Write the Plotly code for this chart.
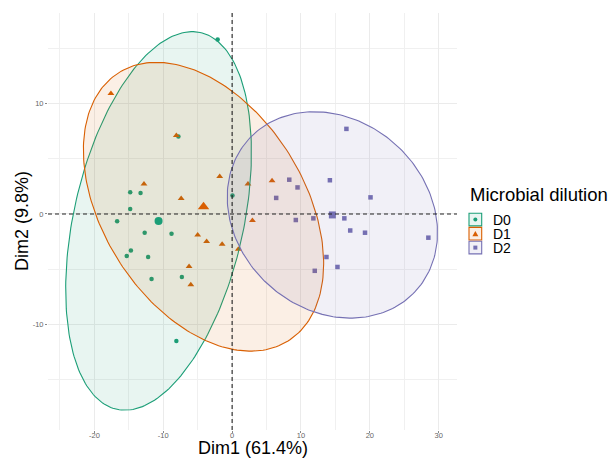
import numpy as np
import plotly.graph_objects as go

# ---- data ----
groups = ["D0", "D1", "D2"]
d0_x = [-2.1, -7.8, -14.8, -13.3, -14.8, 0.05, -16.7, -12.7, -8.8, -14.7, -15.3, -12.2, -11.7, -7.3, -8.1]
d0_y = [15.8, 7.0, 1.96, 1.9, 0.45, 1.66, -0.67, -1.7, -1.8, -3.3, -3.8, -3.9, -5.9, -5.7, -11.5]
d1_x = [-17.6, -8.1, -12.8, -1.8, -7.4, 2.3, 5.8, 2.95, -5.0, -3.7, -1.45, -6.25, -6.0, 0.9]
d1_y = [10.9, 7.1, 2.7, 3.4, 1.4, 2.7, 3.0, -0.6, -1.9, -2.5, -2.75, -4.75, -6.4, -3.2]
d2_x = [16.6, 8.3, 9.5, 14.2, 20.1, 6.4, 11.8, 9.25, 16.3, 17.15, 19.3, 28.5, 13.7, 12.0, 15.3]
d2_y = [7.7, 3.1, 2.4, 3.05, 1.5, 1.45, -0.4, -0.55, -0.4, -1.5, -1.7, -2.15, -3.9, -5.15, -4.8]
x_ticks = [-20, -10, 0, 10, 20, 30]
y_ticks = [-10, 0, 10]

colors = ["#1B9E77", "#D95F02", "#7570B3"]
symbols = ["circle", "triangle-up", "square"]
pt_sizes = [4.5, 6, 4.5]
mean_sizes = [8, 10, 7]
data = [(d0_x, d0_y), (d1_x, d1_y), (d2_x, d2_y)]

FONT = "Liberation Sans, Arial, sans-serif"


def rgba(hexcol, a):
    h = hexcol.lstrip("#")
    r, g, b = int(h[0:2], 16), int(h[2:4], 16), int(h[4:6], 16)
    return f"rgba({r},{g},{b},{a})"


def norm_ellipse(x, y, level=0.95, n=241):
    pts = np.column_stack([x, y])
    center = pts.mean(axis=0)
    cov = np.cov(pts.T)
    dfd = len(x) - 1
    q = dfd / 2.0 * ((1 - level) ** (-2.0 / dfd) - 1)  # qf(level, 2, dfd)
    radius = np.sqrt(2 * q)
    vals, vecs = np.linalg.eigh(cov)
    t = np.linspace(0, 2 * np.pi, n)
    circ = np.vstack([np.cos(t), np.sin(t)])
    e = center[:, None] + radius * (vecs @ np.diag(np.sqrt(vals)) @ circ)
    return e[0], e[1]


fig = go.Figure()

# individual points
for g, (x, y), c, s, ps in zip(groups, data, colors, symbols, pt_sizes):
    fig.add_trace(go.Scatter(x=x, y=y, mode="markers", name=g, showlegend=False,
                             marker=dict(color=c, symbol=s, size=ps, line=dict(width=0))))

# 95% normal ellipses
for g, (x, y), c in zip(groups, data, colors):
    ex, ey = norm_ellipse(x, y)
    fig.add_trace(go.Scatter(x=ex, y=ey, mode="lines", fill="toself",
                             fillcolor=rgba(c, 0.1), line=dict(color=c, width=1.1),
                             showlegend=False, hoverinfo="skip"))

# group means
for g, (x, y), c, s, ms in zip(groups, data, colors, symbols, mean_sizes):
    fig.add_trace(go.Scatter(x=[float(np.mean(x))], y=[float(np.mean(y))], mode="markers",
                             showlegend=False,
                             marker=dict(color=c, symbol=s, size=ms, line=dict(width=0))))

fig.add_hline(y=0, line=dict(color="#222222", width=1.1, dash="4px,3px"))
fig.add_vline(x=0, line=dict(color="#222222", width=1.1, dash="4px,3px"))

W, H = 611, 458
L, R, T, B = 48, 457, 13, 430
pw, ph = R - L, B - T


def px(xp):
    return (xp - L) / pw


def py(yp):
    return (B - yp) / ph


axis_common = dict(showline=False, zeroline=False, gridcolor="#ebebeb", gridwidth=1,
                   ticks="outside", ticklen=2, tickcolor="#888888", tickwidth=1,
                   tickfont=dict(family=FONT, size=7.5, color="#666666"),
                   minor=dict(dtick=5, showgrid=True, gridcolor="#f0f0f0", gridwidth=1, ticks=""))

fig.update_xaxes(range=[-26.74, 32.66], tickvals=x_ticks, ticktext=[str(v) for v in x_ticks],
                 tick0=0, ticklabelstandoff=-4, **axis_common)
fig.update_yaxes(range=[-19.56, 18.19], tickvals=y_ticks, ticktext=[str(v) for v in y_ticks],
                 tick0=0, **axis_common)

annotations = [
    dict(text="Dim1 (61.4%)", x=0.5, y=py(447.5), xref="paper", yref="paper",
         showarrow=False, xanchor="center", yanchor="middle",
         font=dict(family=FONT, size=18, color="#000000")),
    dict(text="Dim2 (9.8%)", x=px(22), y=py(221), xref="paper", yref="paper",
         showarrow=False, xanchor="center", yanchor="middle", textangle=-90,
         font=dict(family=FONT, size=18, color="#000000")),
    dict(text="Microbial dilution", x=px(468), y=py(195), xref="paper", yref="paper",
         showarrow=False, xanchor="left", yanchor="middle",
         font=dict(family=FONT, size=18.5, color="#000000")),
]

shapes = []
key_centers = [219.6, 233.7, 247.6]
for g, c, s, yc in zip(groups, colors, symbols, key_centers):
    x0, x1 = 469.0, 481.7
    y0, y1 = yc - 6.3, yc + 6.3
    shapes.append(dict(type="rect", xref="paper", yref="paper",
                       x0=px(x0), x1=px(x1), y0=py(y1), y1=py(y0),
                       fillcolor=rgba(c, 0.1), line=dict(color=c, width=1.1)))
    cx = (x0 + x1) / 2
    if s == "circle":
        r = 2.0
        shapes.append(dict(type="circle", xref="paper", yref="paper",
                           x0=px(cx - r), x1=px(cx + r), y0=py(yc + r), y1=py(yc - r),
                           fillcolor=c, line=dict(width=0)))
    elif s == "triangle-up":
        path = "M {} {} L {} {} L {} {} Z".format(px(cx - 3), py(yc + 2.6), px(cx + 3), py(yc + 2.6),
                                                  px(cx), py(yc - 2.8))
        shapes.append(dict(type="path", xref="paper", yref="paper", path=path,
                           fillcolor=c, line=dict(width=0)))
    else:
        r = 2.0
        shapes.append(dict(type="rect", xref="paper", yref="paper",
                           x0=px(cx - r), x1=px(cx + r), y0=py(yc + r), y1=py(yc - r),
                           fillcolor=c, line=dict(width=0)))
    annotations.append(dict(text=g, x=px(491), y=py(yc), xref="paper", yref="paper",
                            showarrow=False, xanchor="left", yanchor="middle",
                            font=dict(family=FONT, size=14, color="#000000")))

for sh in shapes:
    fig.add_shape(**sh)

fig.update_layout(
    width=W, height=H,
    margin=dict(l=L, r=W - R, t=T, b=H - B, autoexpand=False),
    paper_bgcolor="white", plot_bgcolor="white",
    showlegend=False,
    annotations=annotations,
    font=dict(family=FONT),
)

fig.write_html("out.html", config={"displayModeBar": False},
               post_script="document.body.style.margin='0px';document.body.style.overflow='hidden';")
